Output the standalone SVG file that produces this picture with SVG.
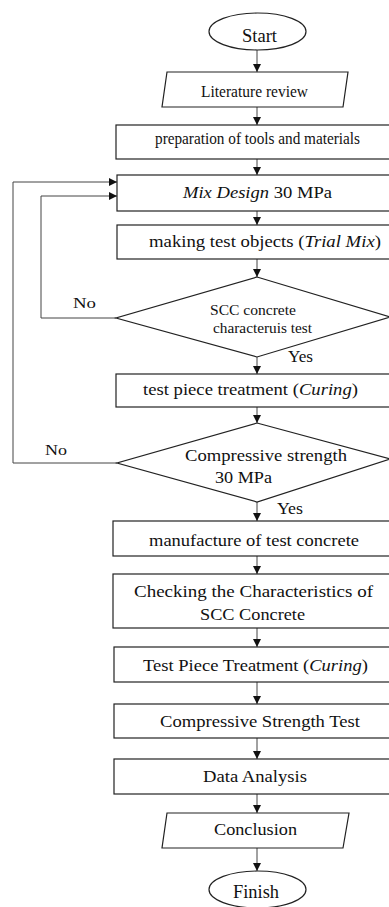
<svg xmlns="http://www.w3.org/2000/svg" width="389" height="907" viewBox="0 0 389 907" font-family="'Liberation Serif', serif">
<style>
.s{fill:#fff;stroke:#222;stroke-width:1.2}
.c{fill:none;stroke:#444;stroke-width:1}
text{font-family:'Liberation Serif',serif;fill:#111;font-size:17px}
.sm{font-size:14px}
.lb{font-size:16px}
.it{font-style:italic}
</style>
<defs>
<marker id="ah" markerUnits="userSpaceOnUse" markerWidth="8" markerHeight="9" refX="8" refY="4" orient="auto">
<path d="M0,0 L8,4 L0,8 z" fill="#111"/>
</marker>
</defs>
<rect width="389" height="907" fill="#fff"/>
<g id="connectors">
<line class="c" x1="257" y1="50" x2="257" y2="72" marker-end="url(#ah)"/>
<line class="c" x1="257" y1="107" x2="257" y2="125" marker-end="url(#ah)"/>
<line class="c" x1="257" y1="159" x2="257" y2="175" marker-end="url(#ah)"/>
<line class="c" x1="257" y1="211" x2="257" y2="225" marker-end="url(#ah)"/>
<line class="c" x1="257" y1="259" x2="257" y2="277" marker-end="url(#ah)"/>
<line class="c" x1="257" y1="357" x2="257" y2="374" marker-end="url(#ah)"/>
<line class="c" x1="257" y1="407" x2="257" y2="423" marker-end="url(#ah)"/>
<line class="c" x1="257" y1="502" x2="257" y2="521" marker-end="url(#ah)"/>
<line class="c" x1="257" y1="556" x2="257" y2="574" marker-end="url(#ah)"/>
<line class="c" x1="257" y1="628" x2="257" y2="647" marker-end="url(#ah)"/>
<line class="c" x1="257" y1="682" x2="257" y2="704" marker-end="url(#ah)"/>
<line class="c" x1="257" y1="738" x2="257" y2="759" marker-end="url(#ah)"/>
<line class="c" x1="257" y1="794" x2="257" y2="813" marker-end="url(#ah)"/>
<line class="c" x1="257" y1="848" x2="257" y2="871" marker-end="url(#ah)"/>
<polyline class="c" points="116,318 41,318 41,196 117,196" marker-end="url(#ah)"/>
<polyline class="c" points="117,463 13,463 13,182 117,182" marker-end="url(#ah)"/>
<text x="73" y="308" textLength="23" lengthAdjust="spacingAndGlyphs" style="font-size:15px">No</text>
<text x="45" y="455" textLength="22" lengthAdjust="spacingAndGlyphs" style="font-size:15px">No</text>
<text class="lb" x="288" y="362" textLength="25" lengthAdjust="spacingAndGlyphs">Yes</text>
<text class="lb" x="277" y="514" textLength="26" lengthAdjust="spacingAndGlyphs">Yes</text>
</g>
<g id="start">
<ellipse class="s" cx="257.5" cy="31.5" rx="48.5" ry="18.5"/>
<text x="242" y="42" textLength="35" lengthAdjust="spacingAndGlyphs" style="font-size:19px">Start</text>
</g>
<g id="literature">
<polygon class="s" points="167,72 348,72 343,107 162,107"/>
<text x="201" y="97" textLength="107" lengthAdjust="spacingAndGlyphs">Literature review</text>
</g>
<g id="preparation">
<rect class="s" x="116" y="125" width="280" height="34"/>
<text x="155" y="144" textLength="205" lengthAdjust="spacingAndGlyphs">preparation of tools and materials</text>
</g>
<g id="mixdesign">
<rect class="s" x="117" y="175" width="280" height="36"/>
<text x="183" y="198" textLength="149" lengthAdjust="spacingAndGlyphs"><tspan class="it">Mix Design</tspan> 30 MPa</text>
</g>
<g id="making">
<rect class="s" x="117" y="225" width="280" height="34"/>
<text x="149" y="246.5" textLength="232" lengthAdjust="spacingAndGlyphs">making test objects (<tspan class="it">Trial Mix</tspan>)</text>
</g>
<g id="decision1">
<polygon class="s" points="257,277 390,317 257,357 116,318"/>
<text class="sm" x="210" y="315" textLength="86" lengthAdjust="spacingAndGlyphs">SCC concrete</text>
<text class="sm" x="213" y="333" textLength="99" lengthAdjust="spacingAndGlyphs">characteruis test</text>
</g>
<g id="curing1">
<rect class="s" x="116" y="374" width="280" height="33"/>
<text x="143" y="395" textLength="215" lengthAdjust="spacingAndGlyphs">test piece treatment (<tspan class="it">Curing</tspan>)</text>
</g>
<g id="decision2">
<polygon class="s" points="257,423 390,459 257,502 117,463"/>
<text x="185" y="460.5" textLength="162" lengthAdjust="spacingAndGlyphs">Compressive strength</text>
<text x="215" y="483" textLength="57" lengthAdjust="spacingAndGlyphs">30 MPa</text>
</g>
<g id="manufacture">
<rect class="s" x="113" y="521" width="285" height="35"/>
<text x="149" y="545.5" textLength="210" lengthAdjust="spacingAndGlyphs">manufacture of test concrete</text>
</g>
<g id="checking">
<rect class="s" x="113" y="574" width="285" height="54"/>
<text x="134" y="597" textLength="239" lengthAdjust="spacingAndGlyphs">Checking the Characteristics of</text>
<text x="200" y="620" textLength="105" lengthAdjust="spacingAndGlyphs">SCC Concrete</text>
</g>
<g id="curing2">
<rect class="s" x="114" y="647" width="285" height="35"/>
<text x="143" y="671" textLength="225" lengthAdjust="spacingAndGlyphs">Test Piece Treatment (<tspan class="it">Curing</tspan>)</text>
</g>
<g id="compressive">
<rect class="s" x="114" y="704" width="285" height="34"/>
<text x="160" y="727" textLength="200" lengthAdjust="spacingAndGlyphs">Compressive Strength Test</text>
</g>
<g id="analysis">
<rect class="s" x="114" y="759" width="285" height="35"/>
<text x="203" y="782" textLength="104" lengthAdjust="spacingAndGlyphs">Data Analysis</text>
</g>
<g id="conclusion">
<polygon class="s" points="167,813 349,813 343,848 162,848"/>
<text x="214" y="835" textLength="83" lengthAdjust="spacingAndGlyphs">Conclusion</text>
</g>
<g id="finish">
<ellipse class="s" cx="257.5" cy="889.5" rx="48.5" ry="18.5"/>
<text x="233" y="898" textLength="46" lengthAdjust="spacingAndGlyphs" style="font-size:19px">Finish</text>
</g>
</svg>
